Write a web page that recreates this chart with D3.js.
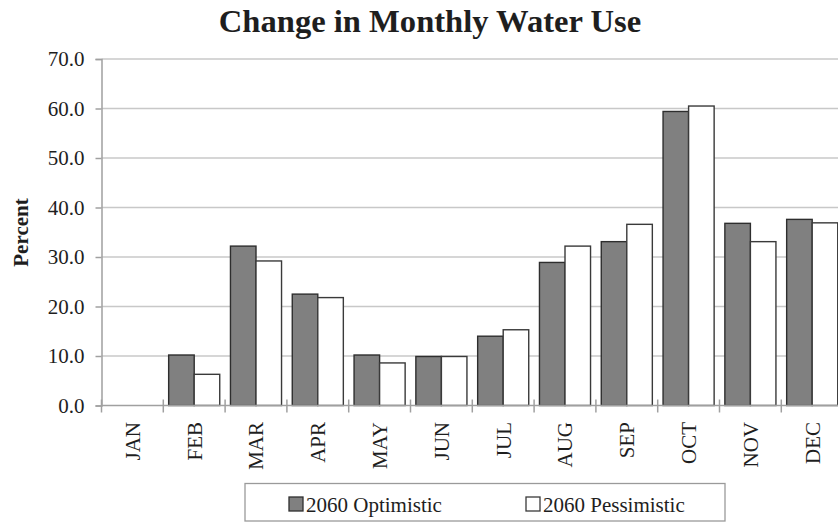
<!DOCTYPE html>
<html>
<head>
<meta charset="utf-8">
<script src="https://cdn.jsdelivr.net/npm/d3@7"></script>
<style>
  html, body { margin: 0; padding: 0; background: #fff; }
  svg { display: block; }
  text { font-family: "Liberation Serif", "Times New Roman", serif; fill: #1e1e1e; }
</style>
</head>
<body>
<svg id="chart" width="838" height="522"></svg>
<script>
// Monthly change in water use, percent
const months = ["JAN","FEB","MAR","APR","MAY","JUN","JUL","AUG","SEP","OCT","NOV","DEC"];
const seriesNames = ["2060 Optimistic", "2060 Pessimistic"];
const optimistic  = [0, 10.2, 32.2, 22.5, 10.2, 9.9, 14.0, 28.9, 33.1, 59.4, 36.8, 37.6];
const pessimistic = [0, 6.3, 29.2, 21.8, 8.6, 9.9, 15.3, 32.2, 36.6, 60.5, 33.1, 36.9];
const yTicks = [0, 10, 20, 30, 40, 50, 60, 70];
const chartTitle = "Change in Monthly Water Use";
const yTitle = "Percent";

const fills = ["#808080", "#ffffff"];
const strokes = ["#2e2e2e", "#3a3a3a"];

const svg = d3.select("#chart");
const margin = { left: 101.5, top: 59, bottom: 405.5 };
const step = 61.8;

const x = d3.scaleBand().domain(months)
  .range([margin.left, margin.left + step * months.length])
  .paddingInner(0).paddingOuter(0);
const x1 = d3.scaleBand().domain(seriesNames)
  .range([0, x.bandwidth()]).paddingInner(0).paddingOuter(0.21);
const y = d3.scaleLinear().domain([0, 70]).range([margin.bottom, margin.top]);

// Title
svg.append("text")
  .attr("x", 430).attr("y", 32)
  .attr("text-anchor", "middle")
  .attr("font-size", 32.6).attr("font-weight", "bold")
  .text(chartTitle);

// Horizontal gridlines
svg.append("g").selectAll("line")
  .data(yTicks.filter(d => d > 0))
  .join("line")
  .attr("x1", margin.left).attr("x2", 838)
  .attr("y1", d => y(d)).attr("y2", d => y(d))
  .attr("stroke", "#c8c8c8").attr("stroke-width", 1.5);

// Y axis
const yAxis = svg.append("g")
  .attr("transform", `translate(${margin.left},0)`)
  .call(d3.axisLeft(y).tickValues(yTicks).tickFormat(d3.format(".1f"))
    .tickSize(6).tickPadding(11));
yAxis.select(".domain").attr("stroke", "#a0a0a0").attr("stroke-width", 1.5);
yAxis.selectAll(".tick line").attr("stroke", "#a0a0a0").attr("stroke-width", 1.5);
yAxis.selectAll(".tick text")
  .attr("font-size", 21)
  .attr("font-family", "'Liberation Serif', 'Times New Roman', serif")
  .attr("fill", "#2a2a2a");

// Y axis title
svg.append("text")
  .attr("transform", `translate(21,232.5) rotate(-90)`)
  .attr("text-anchor", "middle").attr("dy", "0.35em")
  .attr("font-size", 21).attr("font-weight", "bold")
  .text(yTitle);

// Bars
const rows = months.map((m, i) => ({ month: m, values: [optimistic[i], pessimistic[i]] }));
const groups = svg.append("g").selectAll("g")
  .data(rows).join("g")
  .attr("transform", d => `translate(${x(d.month)},0)`);
groups.selectAll("rect")
  .data(d => d.values.map((v, k) => ({ name: seriesNames[k], k, v })).filter(e => e.v > 0))
  .join("rect")
  .attr("x", e => x1(e.name))
  .attr("width", x1.bandwidth())
  .attr("y", e => y(e.v))
  .attr("height", e => y(0) - y(e.v))
  .attr("fill", e => fills[e.k])
  .attr("stroke", e => strokes[e.k])
  .attr("stroke-width", 1.4);

// X axis baseline and tick marks at category boundaries
svg.append("line")
  .attr("x1", margin.left).attr("x2", 838)
  .attr("y1", y(0)).attr("y2", y(0))
  .attr("stroke", "#a0a0a0").attr("stroke-width", 1.5);
svg.append("g").selectAll("line")
  .data(months)
  .join("line")
  .attr("x1", d => x(d)).attr("x2", d => x(d))
  .attr("y1", y(0) - 6).attr("y2", y(0) + 7)
  .attr("stroke", "#a0a0a0").attr("stroke-width", 1.5);

// Month labels, rotated
svg.append("g").selectAll("text")
  .data(months)
  .join("text")
  .attr("transform", d => `translate(${x(d) + x.bandwidth() / 2},422) rotate(-90)`)
  .attr("text-anchor", "end").attr("dy", "0.35em")
  .attr("font-size", 21)
  .text(d => d);

// Legend
const legend = svg.append("g");
legend.append("rect")
  .attr("x", 245).attr("y", 483.5).attr("width", 480).attr("height", 37.5)
  .attr("fill", "#fff").attr("stroke", "#9a9a9a").attr("stroke-width", 1.3);
const legendX = [289, 526];
const items = legend.selectAll("g.item")
  .data(seriesNames).join("g").attr("class", "item")
  .attr("transform", (d, i) => `translate(${legendX[i]},0)`);
items.append("rect")
  .attr("x", 0).attr("y", 497).attr("width", 14).attr("height", 14)
  .attr("fill", (d, i) => fills[i]).attr("stroke", (d, i) => strokes[i]).attr("stroke-width", 1.3);
items.append("text")
  .attr("x", 17).attr("y", 511.5)
  .attr("font-size", 21)
  .text(d => d);
</script>
</body>
</html>
